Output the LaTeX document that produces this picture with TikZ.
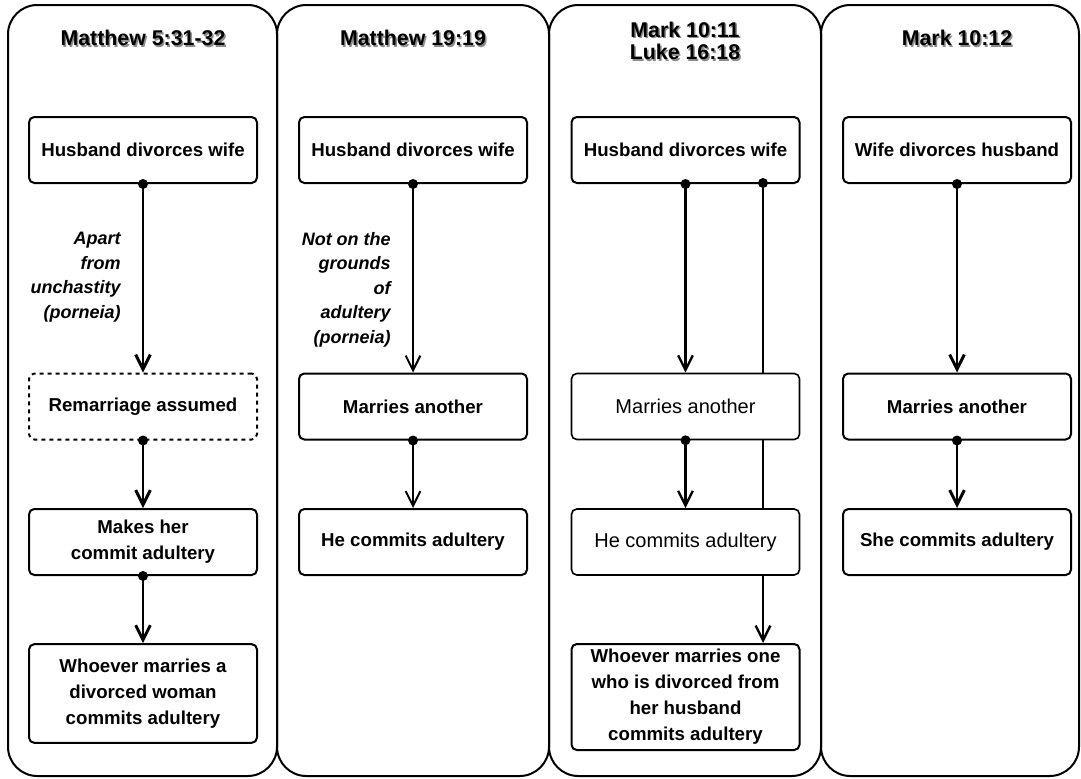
\documentclass[tikz,border=0pt]{standalone}
\usepackage{fontspec}
\setmainfont{Liberation Sans}
\usetikzlibrary{arrows.meta,positioning}
\tikzset{
  gospel/.style = {draw, line width=1.5pt, rounded corners=22pt},
  event/.style = {draw, line width=1.5pt, rounded corners=4pt, fill=white,
    minimum width=171pt, minimum height=49.5pt, inner sep=2pt, align=center,
    font=\fontsize{14}{19.5}\selectfont\bfseries},
  plain/.style = {event, line width=1.2pt, font=\fontsize{15}{19.5}\selectfont},
  assumed/.style = {event, dashed},
  ref/.style = {font=\fontsize{16}{17}\selectfont\bfseries, align=center},
  refshadow/.style = {ref, text=black!45},
  cond/.style = {font=\fontsize{13.5}{18.4}\selectfont\bfseries\itshape,
    align=right, anchor=north east, inner sep=0pt},
  leads/.style = {line width=2.2pt, -{Straight Barb[length=11pt,width=11pt]}},
  dot/.style = {circle, fill, inner sep=0pt, minimum size=7.5pt}
}
\begin{document}
\begin{tikzpicture}[x=0.75pt, y=-0.75pt]
  \useasboundingbox (0,0) rectangle (1081,778);
  % the four gospel columns
  \draw[gospel] (8,5) rectangle (277,776);
  \draw[gospel] (277,5) rectangle (549,776);
  \draw[gospel] (549,5) rectangle (821,776);
  \draw[gospel] (821,5) rectangle (1079,776);

  % headings
  \node[refshadow] at (144.5,39.5) {Matthew 5:31-32};
  \node[ref] (mt5) at (143,38) {Matthew 5:31-32};
  \node[refshadow] at (414.5,39.5) {Matthew 19:19};
  \node[ref] (mt19) at (413,38) {Matthew 19:19};
  \node[refshadow] at (686.5,42.5) {Mark 10:11\\Luke 16:18};
  \node[ref] (mk11) at (685,41) {Mark 10:11\\Luke 16:18};
  \node[refshadow] at (958.5,39.5) {Mark 10:12};
  \node[ref] (mk12) at (957,38) {Mark 10:12};

  % Matthew 5
  \node[event] (hd1) at (143,150) {Husband divorces wife};
  \node[assumed] (rm1) at (143,406.5) {Remarriage assumed};
  \node[event] (mh1) at (143,542) {Makes her\\commit adultery};
  \node[event, minimum height=74pt] (wm1) at (143,693.5)
    {Whoever marries a\\divorced woman\\commits adultery};
  \draw[leads] (hd1.south) node[dot] {} -- (rm1.north);
  \draw[leads] (rm1.south) node[dot] {} -- (mh1.north);
  \draw[leads] (mh1.south) node[dot] {} -- (wm1.north);
  \node[cond] (ex1) at (121,232) {Apart\\from\\unchastity\\(porneia)};

  % Matthew 19
  \node[event] (hd2) at (413,150) {Husband divorces wife};
  \node[event] (ma2) at (413,406.5) {Marries another};
  \node[event] (hc2) at (413,542) {He commits adultery};
  \draw[leads, line width=1.5pt] (hd2.south) node[dot] {} -- (ma2.north);
  \draw[leads, line width=1.5pt] (ma2.south) node[dot] {} -- (hc2.north);
  \node[cond] (ex2) at (391,232) {Not on the\\grounds\\of\\adultery\\(porneia)};

  % Mark 10:11 / Luke 16:18 (long line first, boxes on top of it)
  \node[event] (hd3) at (685.5,150) {Husband divorces wife};
  \node[event, minimum height=79.5pt] (wm3) at (685.5,697)
    {Whoever marries one\\who is divorced from\\her husband\\commits adultery};
  \coordinate (sd3) at (763,183);
  \draw[leads, line width=1.8pt] (sd3) node[dot] {} -- (sd3 |- wm3.north);
  \node[plain] (ma3) at (685.5,406.5) {Marries another};
  \node[plain] (hc3) at (685.5,542) {He commits adultery};
  \draw[leads, line width=1.8pt] (hd3.south) node[dot] {} -- (ma3.north);
  \draw[leads, line width=1.8pt] (ma3.south) node[dot] {} -- (hc3.north);

  % Mark 10:12
  \node[event] (wd4) at (957,150) {Wife divorces husband};
  \node[event] (ma4) at (957,406.5) {Marries another};
  \node[event] (sc4) at (957,542) {She commits adultery};
  \draw[leads] (wd4.south) node[dot] {} -- (ma4.north);
  \draw[leads] (ma4.south) node[dot] {} -- (sc4.north);
\end{tikzpicture}
\end{document}
